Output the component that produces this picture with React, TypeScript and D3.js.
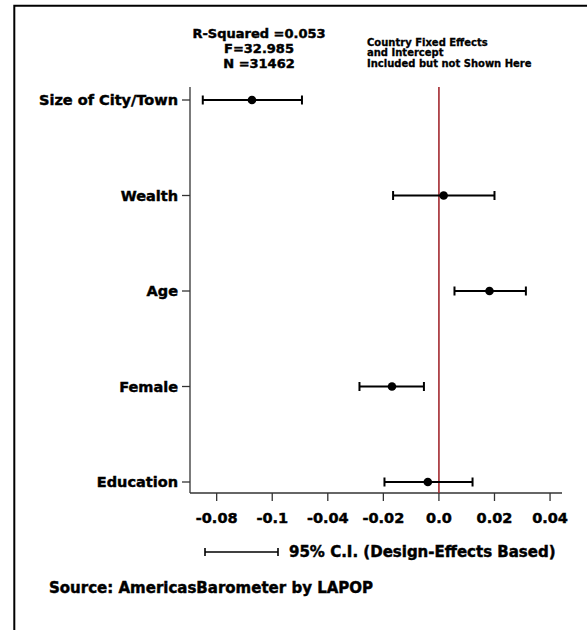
import * as d3 from 'd3'

const categories = ['Size of City/Town', 'Wealth', 'Age', 'Female', 'Education']
const coefs = [-0.0673, 0.0017, 0.0182, -0.0169, -0.004]
const ciLow = [-0.085, -0.0165, 0.0056, -0.0286, -0.0196]
const ciHigh = [-0.0493, 0.02, 0.0313, -0.0054, 0.0121]
const tickValues = [-0.08, -0.06, -0.04, -0.02, 0, 0.02, 0.04]
const tickLabels = ['-0.08', '-0.1', '-0.04', '-0.02', '0.0', '0.02', '0.04']
const statsLines = ['R-Squared =0.053', 'F=32.985', 'N =31462']
const noteLines = ['Country Fixed Effects', 'and Intercept', 'Included but not Shown Here']

const W = 587
const H = 630
const font = '"DejaVu Sans", sans-serif'

// heavy bold look, close to the reference's black sans
const heavy = { fontFamily: font, fontWeight: 'bold' as const, stroke: '#000', strokeWidth: 0.45 }

export default function App() {
  const x = d3.scaleLinear().domain([-0.0896, 0.0443]).range([190, 562])
  const y = d3.scalePoint<string>().domain(categories).range([100, 482])
  const top = 87
  const bottom = 493
  const left = 190
  const cap = 4.5

  return (
    <svg width={W} height={H} style={{ position: 'fixed', left: 0, top: 0, background: '#fff' }}>
      {/* frame */}
      <path d={`M${W},5.7H14.3V${H}`} fill="none" stroke="#000" strokeWidth={2} />

      {/* header */}
      {statsLines.map((t, i) => (
        <text key={t} x={259} y={33 + i * 15.2} dy="0.36em" textAnchor="middle"
          {...heavy} fontSize={13}>{t}</text>
      ))}
      {noteLines.map((t, i) => (
        <text key={t} x={367} y={42 + i * 10.8} dy="0.36em"
          {...heavy} strokeWidth={0.3} fontSize={10}>{t}</text>
      ))}

      {/* axes */}
      <line x1={left} x2={left} y1={top} y2={bottom} stroke="#333" strokeWidth={1.3} />
      <line x1={left} x2={562} y1={bottom} y2={bottom} stroke="#333" strokeWidth={1.3} />
      {categories.map(c => (
        <g key={c}>
          <line x1={left - 8} x2={left} y1={y(c)} y2={y(c)} stroke="#333" strokeWidth={1.3} />
          <text x={left - 12} y={y(c)} dy="0.36em" textAnchor="end"
            {...heavy} fontSize={14.5}>{c}</text>
        </g>
      ))}
      {tickValues.map((v, i) => (
        <g key={v}>
          <line x1={x(v)} x2={x(v)} y1={bottom} y2={bottom + 8} stroke="#333" strokeWidth={1.3} />
          <text x={x(v)} y={518} dy="0.36em" textAnchor="middle"
            {...heavy} fontSize={14.5}>{tickLabels[i]}</text>
        </g>
      ))}

      {/* zero line */}
      <line x1={x(0)} x2={x(0)} y1={top} y2={bottom} stroke="#a3282e" strokeWidth={1.6} />

      {/* coefficients */}
      {categories.map((c, i) => {
        const cy = y(c) as number
        return (
          <g key={c} stroke="#000" strokeWidth={2}>
            <line x1={x(ciLow[i])} x2={x(ciHigh[i])} y1={cy} y2={cy} />
            <line x1={x(ciLow[i])} x2={x(ciLow[i])} y1={cy - cap} y2={cy + cap} />
            <line x1={x(ciHigh[i])} x2={x(ciHigh[i])} y1={cy - cap} y2={cy + cap} />
            <circle cx={x(coefs[i])} cy={cy} r={4.3} fill="#000" stroke="none" />
          </g>
        )
      })}

      {/* legend */}
      <g stroke="#000" strokeWidth={1.6}>
        <line x1={205} x2={278} y1={552} y2={552} />
        <line x1={205} x2={205} y1={548} y2={556} />
        <line x1={278} x2={278} y1={548} y2={556} />
      </g>
      <text x={289} y={552} dy="0.36em" {...heavy} fontSize={15}>
        95% C.I. (Design-Effects Based)
      </text>
      <text x={49} y={588} dy="0.36em" {...heavy} fontSize={15}>
        Source: AmericasBarometer by LAPOP
      </text>
    </svg>
  )
}
